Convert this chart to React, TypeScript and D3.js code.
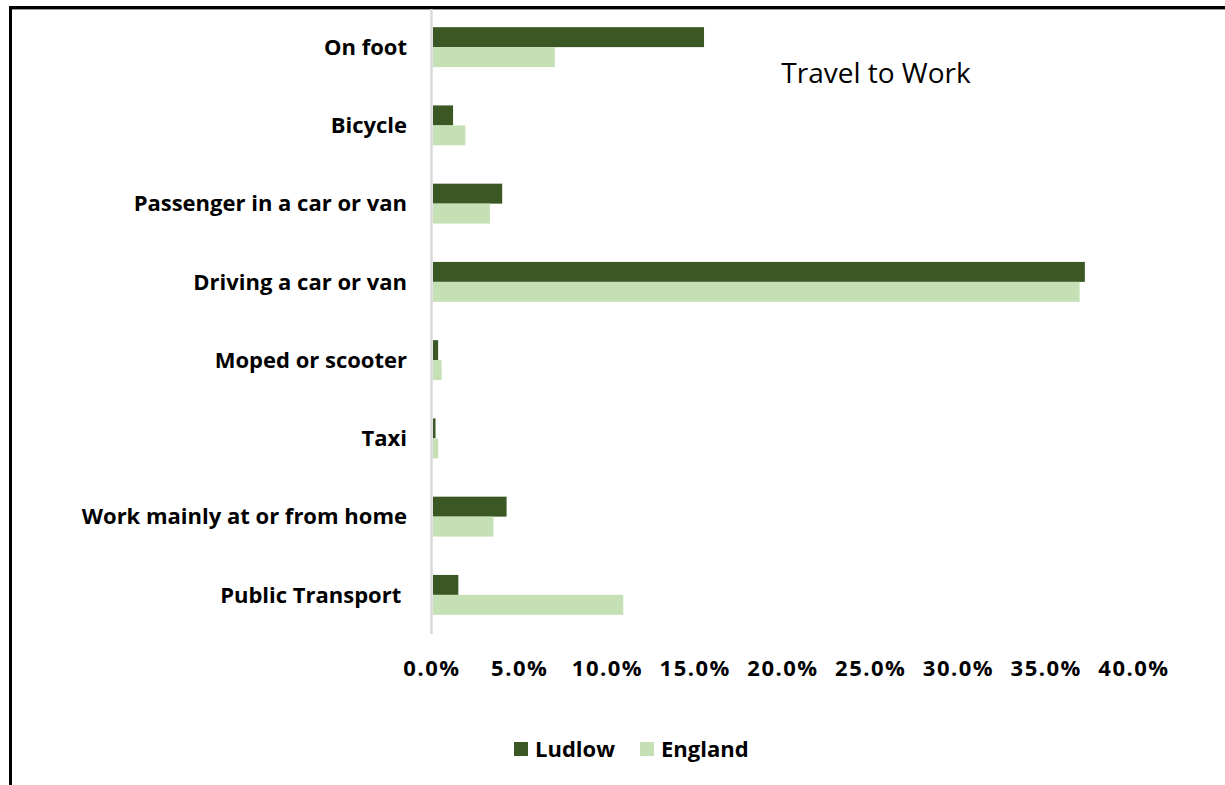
import React from "react";
import * as d3 from "d3";

const categories = [
  "On foot",
  "Bicycle",
  "Passenger in a car or van",
  "Driving a car or van",
  "Moped or scooter",
  "Taxi",
  "Work mainly at or from home",
  "Public Transport\u00a0",
];
const ludlow = [15.5, 1.2, 4.0, 37.2, 0.35, 0.2, 4.25, 1.5];
const england = [7.0, 1.9, 3.3, 36.9, 0.55, 0.35, 3.5, 10.9];
const seriesNames = ["Ludlow", "England"];
const seriesColors = ["#3A5724", "#C5E0B4"];
const xTicks = [0, 5, 10, 15, 20, 25, 30, 35, 40];

const W = 1225;
const H = 785;
const FONT = "'Open Sans', sans-serif";

export default function App() {
  const x = d3.scaleLinear().domain([0, 40]).range([432, 1134]);
  const y = d3.scaleBand<string>().domain(categories).range([8, 634]).paddingInner(0.49).paddingOuter(0.245);
  const bw = y.bandwidth() / 2;
  const fmt = (v: number) => v.toFixed(1) + "%";
  return (
    <svg width={W} height={H} style={{ position: "absolute", left: 0, top: 0, background: "#fff" }}>
      <rect x={0} y={0} width={W} height={H} fill="#fff" />
      <line x1={9} x2={W} y1={7.5} y2={7.5} stroke="#000" strokeWidth={3} />
      <line x1={9} x2={W} y1={9.5} y2={9.5} stroke="#999" strokeWidth={1} />
      <line x1={10.5} x2={10.5} y1={6} y2={H} stroke="#000" strokeWidth={3} />
      {categories.map((c, i) => (
        <g key={c}>
          <rect x={x(0) + 1} y={y(c)!} width={x(ludlow[i]) - x(0) - 1} height={bw} fill={seriesColors[0]} />
          <rect x={x(0) + 1} y={y(c)! + bw} width={x(england[i]) - x(0) - 1} height={bw} fill={seriesColors[1]} />
        </g>
      ))}
      <line x1={431.5} x2={431.5} y1={9} y2={634} stroke="#D9D9D9" strokeWidth={2.5} />
      {categories.map((c) => (
        <text
          key={c}
          x={407}
          y={y(c)! + bw}
          dy="0.35em"
          textAnchor="end"
          fontFamily={FONT}
          fontWeight="bold"
          fontSize={22}
          fill="#000"
          style={{ whiteSpace: "pre" }}
        >
          {c}
        </text>
      ))}
      {xTicks.map((t) => (
        <text key={t} x={x(t)} y={668} dy="0.35em" textAnchor="middle" fontFamily={FONT} fontWeight="bold" fontSize={22} letterSpacing={1.5} fill="#000">
          {fmt(t)}
        </text>
      ))}
      <text x={876} y={73} dy="0.35em" textAnchor="middle" fontFamily={FONT} fontSize={28} fill="#000">
        Travel to Work
      </text>
      <rect x={514} y={742} width={14} height={14} fill={seriesColors[0]} />
      <text x={535} y={749} dy="0.35em" fontFamily={FONT} fontWeight="bold" fontSize={22} fill="#000">
        {seriesNames[0]}
      </text>
      <rect x={640} y={742} width={14} height={14} fill={seriesColors[1]} />
      <text x={661} y={749} dy="0.35em" fontFamily={FONT} fontWeight="bold" fontSize={22} fill="#000">
        {seriesNames[1]}
      </text>
    </svg>
  );
}
